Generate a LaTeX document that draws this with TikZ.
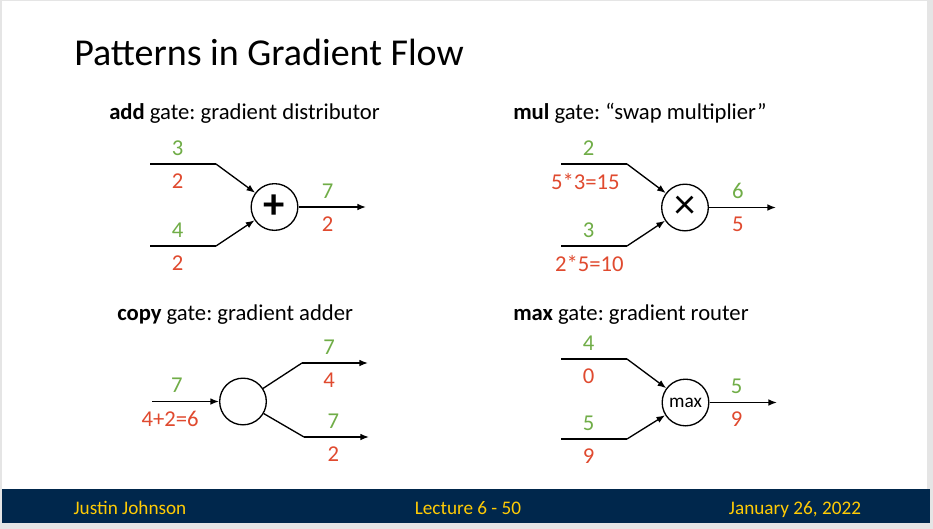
\documentclass[tikz,border=0pt]{standalone}
\usepackage{fontspec}
\setmainfont{Carlito}
\usetikzlibrary{arrows.meta}
\frenchspacing

\definecolor{gradgreen}{HTML}{70AD47}
\definecolor{valred}{HTML}{E04A2F}
\definecolor{umblue}{HTML}{00274C}
\definecolor{maize}{HTML}{FFCB05}

\tikzset{
  gate/.style={circle, draw, line width=1pt, minimum size=35pt, inner sep=0pt},
  wire/.style={line width=1pt},
  arr/.style={line width=1pt, -{Latex[length=6.5pt,width=5pt]}},
  numfont/.style={font=\fontsize{17}{18}\selectfont, inner sep=0pt},
  grad/.style={numfont, text=gradgreen, above=6pt},
  val/.style={numfont, text=valred, below=6.75pt},
  hdr/.style={anchor=base west, inner sep=0pt, font=\fontsize{17}{20}\selectfont},
  foot/.style={anchor=base, inner sep=0pt, text=maize, font=\fontsize{14.4}{16}\selectfont}
}

\begin{document}
\begin{tikzpicture}[x=0.75pt, y=-0.75pt]
        \useasboundingbox (0,0) rectangle (933,529);
        \fill[gray!20] (0,0) rectangle (933,529);
        \fill[white] (2,1) rectangle (927,522);
        \fill[umblue] (2,489) rectangle (930,523);

        \node[anchor=base west, inner sep=0pt, font=\fontsize{28.5}{32}\selectfont] (title) at (74,65) {Patterns in Gradient Flow};

        \node[hdr] (hadd) at (109,119) {\textbf{add} gate: gradient distributor};
        \node[hdr] (hmul) at (513,119) {\textbf{mul} gate: “swap multiplier”};
        \node[hdr] (hcopy) at (117,320) {\textbf{copy} gate: gradient adder};
        \node[hdr] (hmax) at (513,320) {\textbf{max} gate: gradient router};

        % add gate
        \node[gate, font=\fontsize{32}{34}\selectfont\bfseries] (add) at (274.5,207) {+};
        \coordinate (a1) at (150,164);
        \coordinate (b1) at (216,164);
        \coordinate (a2) at (150,246);
        \coordinate (b2) at (216,246);
        \coordinate (ao) at (366,207);
        \draw[wire] (a1) -- node[grad, pos=.42]{3} node[val, pos=.42]{2} (b1);
        \draw[wire] (a2) -- node[grad, pos=.42]{4} node[val, pos=.42]{2} (b2);
        \draw[arr] (b1) -- (add);
        \draw[arr] (b2) -- (add);
        \draw[arr] (add) -- node[grad, pos=.43]{7} node[val, pos=.43]{2} (ao);

        % mul gate
        \node[gate, font=\fontsize{32}{34}\selectfont] (mul) at (685,207.5) {×};
        \coordinate (m1) at (561,164);
        \coordinate (mb1) at (627,164);
        \coordinate (m2) at (561,246);
        \coordinate (mb2) at (627,246);
        \coordinate (mo) at (776,207.5);
        \draw[wire] (m1) -- node[grad, pos=.42]{2} node[val, pos=.37]{5*3=15} (mb1);
        \draw[wire] (m2) -- node[grad, pos=.42]{3} node[val, pos=.43]{2*5=10} (mb2);
        \draw[arr] (mb1) -- (mul);
        \draw[arr] (mb2) -- (mul);
        \draw[arr] (mul) -- node[grad, pos=.43]{6} node[val, pos=.43]{5} (mo);

        % copy gate
        \node[gate] (copy) at (243,401.5) {};
        \coordinate (c0) at (152,401.5);
        \coordinate (ct) at (302,363);
        \coordinate (cto) at (368,363);
        \coordinate (cb) at (304,437);
        \coordinate (cbo) at (369,437);
        \draw[arr] (c0) -- node[grad, pos=.37]{7} node[val, pos=.27]{4+2=6} (copy);
        \draw[wire] (copy) -- (ct);
        \draw[wire] (copy) -- (cb);
        \draw[arr] (ct) -- node[grad, pos=.41]{7} node[val, pos=.41]{4} (cto);
        \draw[arr] (cb) -- node[grad, pos=.45]{7} node[val, pos=.45]{2} (cbo);

        % max gate
        \node[gate, font=\fontsize{14.5}{16}\selectfont] (max) at (685.5,402.5) {max};
        \coordinate (x1) at (561,359);
        \coordinate (xb1) at (627,359);
        \coordinate (x2) at (561,439);
        \coordinate (xb2) at (627,439);
        \coordinate (xo) at (777,402.5);
        \draw[wire] (x1) -- node[grad, pos=.42]{4} node[val, pos=.42]{0} (xb1);
        \draw[wire] (x2) -- node[grad, pos=.42]{5} node[val, pos=.42]{9} (xb2);
        \draw[arr] (xb1) -- (max);
        \draw[arr] (xb2) -- (max);
        \draw[arr] (max) -- node[grad, pos=.4]{5} node[val, pos=.4]{9} (xo);

        \node[foot] (author) at (130,514) {Justin Johnson};
        \node[foot] (lecture) at (468,514) {Lecture 6 - 50};
        \node[foot] (date) at (795,514) {January 26, 2022};
\end{tikzpicture}
\end{document}
